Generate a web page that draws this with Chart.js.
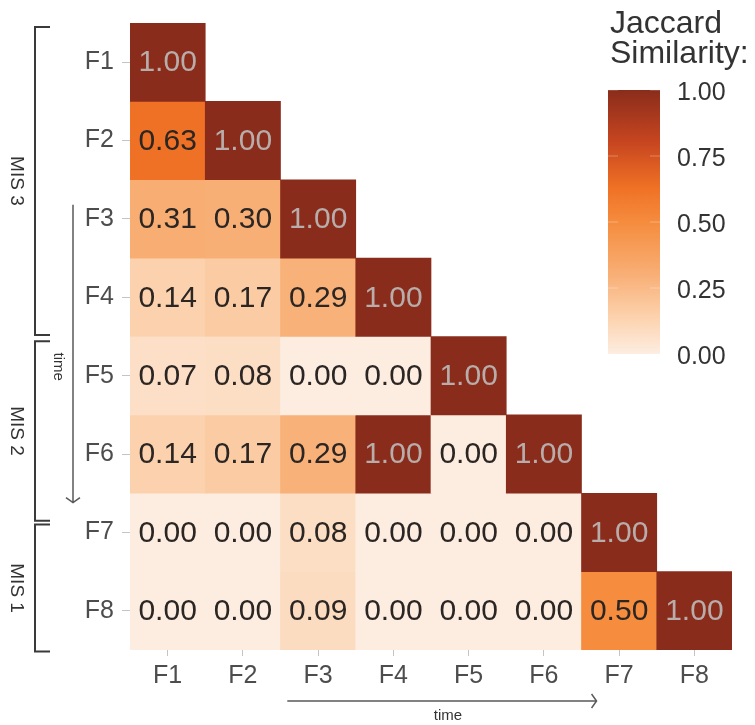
<!DOCTYPE html>
<html>
<head>
<meta charset="utf-8">
<script src="https://cdn.jsdelivr.net/npm/chart.js@4.4.1/dist/chart.umd.min.js"></script>
<style>
  html, body { margin: 0; padding: 0; background: #fff; }
  #wrap { width: 755px; height: 725px; }
</style>
</head>
<body>
<div id="wrap"><canvas id="heatmap" width="755" height="725"></canvas></div>
<script>
// 橫軸與縱軸共用的分類標籤
const categories = ["F1", "F2", "F3", "F4", "F5", "F6", "F7", "F8"]

// 每一列的 Jaccard 相似度 (只有下三角)
const rowF1 = [1.00]
const rowF2 = [0.63, 1.00]
const rowF3 = [0.31, 0.30, 1.00]
const rowF4 = [0.14, 0.17, 0.29, 1.00]
const rowF5 = [0.07, 0.08, 0.00, 0.00, 1.00]
const rowF6 = [0.14, 0.17, 0.29, 1.00, 0.00, 1.00]
const rowF7 = [0.00, 0.00, 0.08, 0.00, 0.00, 0.00, 1.00]
const rowF8 = [0.00, 0.00, 0.09, 0.00, 0.00, 0.00, 0.50, 1.00]
const similarityRows = [rowF1, rowF2, rowF3, rowF4, rowF5, rowF6, rowF7, rowF8]

// 色階圖例刻度
const legendTicks = [0, 0.25, 0.5, 0.75, 1]
const legendTitle = ["Jaccard", "Similarity:"]

// 左側時期分組
const periodLabels = ["MIS 3", "MIS 2", "MIS 1"]

// 顏色: 由淡橘到深紅棕
const colorStops = [
  [0.00, [253, 237, 225]],
  [0.15, [252, 208, 170]],
  [0.30, [248, 175, 118]],
  [0.50, [245, 140, 62]],
  [0.63, [239, 113, 37]],
  [0.80, [200, 70, 32]],
  [1.00, [138, 44, 27]],
]

function colorFor(v) {
  for (let k = 1; k < colorStops.length; k++) {
    const [v1, c1] = colorStops[k]
    const [v0, c0] = colorStops[k - 1]
    if (v <= v1) {
      const t = (v - v0) / (v1 - v0)
      const c = c0.map((x, n) => Math.round(x + (c1[n] - x) * t))
      return `rgb(${c[0]},${c[1]},${c[2]})`
    }
  }
  const c = colorStops[colorStops.length - 1][1]
  return `rgb(${c[0]},${c[1]},${c[2]})`
}

const FONT = "'Liberation Sans', Arial, sans-serif"

// 在每格中央寫上數值
const cellTextPlugin = {
  id: "cellText",
  afterDatasetsDraw(chart) {
    const ctx = chart.ctx
    ctx.save()
    ctx.font = `30px ${FONT}`
    ctx.textAlign = "center"
    ctx.textBaseline = "middle"
    chart.data.datasets.forEach((ds, i) => {
      const meta = chart.getDatasetMeta(i)
      meta.data.forEach((bar, j) => {
        const v = ds.values[j]
        if (v === undefined) return
        ctx.fillStyle = v > 0.8 ? "#b8adaa" : "#2b2623"
        ctx.fillText(v.toFixed(2), bar.x, (bar.y + bar.base) / 2 + 1)
      })
    })
    ctx.restore()
  },
}

// 括號、時間箭頭、色階圖例
const decorPlugin = {
  id: "decor",
  afterDraw(chart) {
    const ctx = chart.ctx
    const xs = chart.scales.x
    const ys = chart.scales.y
    ctx.save()

    // 時期括號 (以縱軸數值定位)
    const spans = [[0.05, 3.98], [4.06, 6.35], [6.4, 8.02]]
    ctx.strokeStyle = "#3a3a3a"
    ctx.lineWidth = 2
    ctx.fillStyle = "#333"
    ctx.font = `19px ${FONT}`
    ctx.textAlign = "center"
    ctx.textBaseline = "middle"
    spans.forEach(([a, b], k) => {
      const y0 = ys.getPixelForValue(a)
      const y1 = ys.getPixelForValue(b)
      ctx.beginPath()
      ctx.moveTo(50, y0)
      ctx.lineTo(35, y0)
      ctx.lineTo(35, y1)
      ctx.lineTo(50, y1)
      ctx.stroke()
      ctx.save()
      ctx.translate(16, (y0 + y1) / 2)
      ctx.rotate(Math.PI / 2)
      ctx.fillText(periodLabels[k], 0, 0)
      ctx.restore()
    })

    // 縱向時間箭頭
    ctx.strokeStyle = "#5a5a5a"
    ctx.lineWidth = 1.5
    const vx = 73
    const vTop = ys.getPixelForValue(2.32)
    const vBot = ys.getPixelForValue(6.12)
    ctx.beginPath()
    ctx.moveTo(vx, vTop)
    ctx.lineTo(vx, vBot)
    ctx.moveTo(vx - 7, vBot - 5)
    ctx.lineTo(vx, vBot)
    ctx.lineTo(vx + 7, vBot - 5)
    ctx.stroke()
    ctx.fillStyle = "#333"
    ctx.font = `15px ${FONT}`
    ctx.save()
    ctx.translate(58, (vTop + vBot) / 2 + 13)
    ctx.rotate(Math.PI / 2)
    ctx.fillText("time", 0, 0)
    ctx.restore()

    // 橫向時間箭頭
    const hy = 701
    const hL = xs.getPixelForValue(1.59)
    const hR = xs.getPixelForValue(5.7)
    ctx.beginPath()
    ctx.moveTo(hL, hy)
    ctx.lineTo(hR, hy)
    ctx.moveTo(hR - 5, hy - 7)
    ctx.lineTo(hR, hy)
    ctx.lineTo(hR - 5, hy + 7)
    ctx.stroke()
    ctx.fillText("time", (hL + hR) / 2 + 6, 716)

    // 色階圖例
    const barL = 608, barR = 660, barBottom = 354, barTop = 90
    const grad = ctx.createLinearGradient(0, barBottom, 0, barTop)
    colorStops.forEach(([v, c]) => grad.addColorStop(v, `rgb(${c[0]},${c[1]},${c[2]})`))
    ctx.fillStyle = grad
    ctx.fillRect(barL, barTop, barR - barL, barBottom - barTop)
    ctx.strokeStyle = "rgba(255,255,255,0.3)"
    ctx.lineWidth = 1
    legendTicks.forEach((t) => {
      const y = barBottom - (barBottom - barTop) * t
      ctx.beginPath()
      ctx.moveTo(barL, y); ctx.lineTo(barL + 10, y)
      ctx.moveTo(barR - 10, y); ctx.lineTo(barR, y)
      ctx.stroke()
    })
    ctx.fillStyle = "#333"
    ctx.font = `25px ${FONT}`
    ctx.textAlign = "left"
    legendTicks.forEach((t) => {
      const y = barBottom - (barBottom - barTop) * t
      ctx.fillText(t.toFixed(2), 677, y + 3)
    })
    ctx.font = `32px ${FONT}`
    ctx.textBaseline = "alphabetic"
    ctx.fillText(legendTitle[0], 610, 33)
    ctx.fillText(legendTitle[1], 610, 63)

    ctx.restore()
  },
}

new Chart(document.getElementById("heatmap"), {
  type: "bar",
  data: {
    labels: categories,
    datasets: similarityRows.map((row, i) => ({
      label: categories[i],
      // 浮動長條 [列起點, 列終點], 只畫下三角
      data: categories.map((c, j) => (j < row.length ? [i, i + 1] : null)),
      backgroundColor: categories.map((c, j) => (j < row.length ? colorFor(row[j]) : "transparent")),
      values: row,
      grouped: false,
      barPercentage: 1,
      categoryPercentage: 1,
      borderWidth: 0,
    })),
  },
  options: {
    responsive: false,
    animation: false,
    devicePixelRatio: 1,
    layout: { padding: { left: 0, top: 21, right: 23, bottom: 0 } },
    plugins: {
      legend: { display: false },
      tooltip: { enabled: false },
    },
    scales: {
      x: {
        type: "category",
        grid: { display: true, drawOnChartArea: false, offset: false, tickLength: 6, color: "#c4c4c4" },
        border: { display: false },
        ticks: { color: "#4d4d4d", font: { family: FONT, size: 25 }, padding: 5, maxRotation: 0 },
        afterFit(scale) { scale.height = 75 },
      },
      y: {
        type: "linear",
        min: 0,
        max: 8,
        reverse: true,
        grid: { display: true, drawOnChartArea: false, tickLength: 8, color: "#c4c4c4" },
        border: { display: false },
        afterBuildTicks(scale) {
          scale.ticks = categories.map((c, i) => ({ value: i + 0.5 }))
        },
        ticks: {
          color: "#4d4d4d",
          font: { family: FONT, size: 25 },
          padding: 8,
          callback: (v) => categories[Math.floor(v)],
        },
        afterFit(scale) { scale.width = 130 },
      },
    },
  },
  plugins: [cellTextPlugin, decorPlugin],
})
</script>
</body>
</html>
